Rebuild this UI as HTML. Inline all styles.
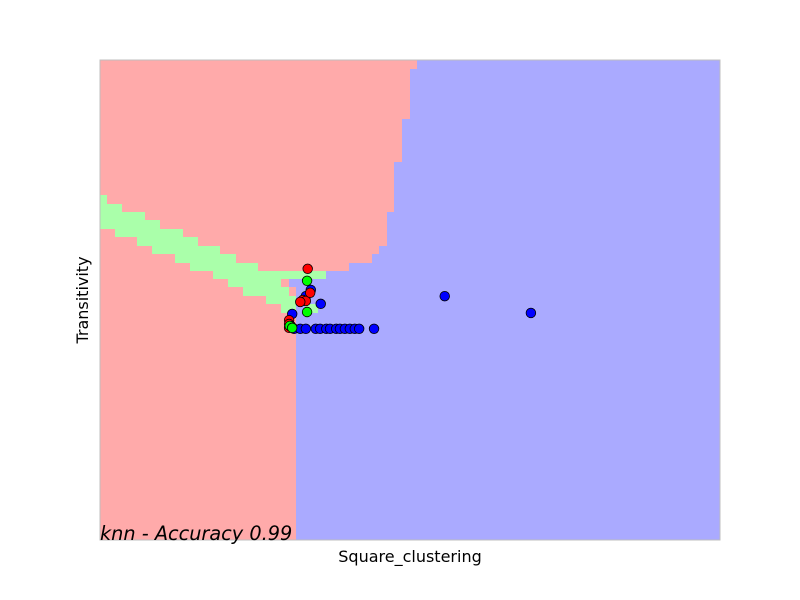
<!DOCTYPE html>
<html><head><meta charset="utf-8"><style>
html,body{margin:0;padding:0;background:#fff;width:800px;height:600px;overflow:hidden}
text{font-family:"DejaVu Sans","Liberation Sans",sans-serif}
</style></head><body>
<svg id="chart" width="800" height="600" xmlns="http://www.w3.org/2000/svg">
<g id="regions">
<rect x="100" y="60" width="620" height="480" fill="#aaaaff"/>
<polygon fill="#ffaaaa" points="100,60 417,60 417,69 410,69 410,119 402,119 402,162 394,162 394,212 387,212 387,246 379,246 379,254 372,254 372,263 349,263 349,271 326,271 326,279 296,279 296,540 100,540"/>
<rect x="289" y="279" width="22" height="8" fill="#aaaaff"/>
<g id="green" fill="#aaffaa">
<rect x="100" y="195" width="7" height="9"/>
<rect x="100" y="204" width="22" height="8"/>
<rect x="100" y="212" width="45" height="8"/>
<rect x="100" y="220" width="60" height="9"/>
<rect x="115" y="229" width="68" height="8"/>
<rect x="137" y="237" width="61" height="9"/>
<rect x="152" y="246" width="68" height="8"/>
<rect x="175" y="254" width="61" height="9"/>
<rect x="190" y="263" width="68" height="8"/>
<rect x="213" y="271" width="113" height="8"/>
<rect x="228" y="279" width="53" height="8"/>
<rect x="243" y="287" width="46" height="9"/>
<rect x="266" y="296" width="30" height="8"/>
<rect x="281" y="304" width="15" height="9"/>
<rect x="305" y="304" width="13" height="9"/>
</g>
</g>
<g id="points"></g>
<rect x="100" y="60" width="620" height="480" fill="none" stroke="#bfbfbf" stroke-width="1"/>
<text x="100" y="540" font-size="19.3" font-style="italic" fill="#000">knn - Accuracy 0.99</text>
<text x="410" y="562" font-size="16" text-anchor="middle" fill="#000">Square_clustering</text>
<text x="0" y="0" font-size="16" text-anchor="middle" transform="translate(88,300) rotate(-90)" fill="#000">Transitivity</text>
</svg>
<script>
const redX=[0.335,0.327,0.332,0.339,0.323,0.305,0.305,0.305,0.308];
const redY=[0.565,0.500,0.498,0.515,0.496,0.458,0.450,0.442,0.446];
const greenX=[0.334,0.334,0.306,0.310];
const greenY=[0.540,0.475,0.446,0.442];
const blueX=[0.556,0.695,0.340,0.356,0.332,0.310,0.313,0.323,0.332,0.348,0.355,0.365,0.371,0.381,0.387,0.395,0.403,0.411,0.418,0.442];
const blueY=[0.508,0.473,0.521,0.492,0.508,0.471,0.440,0.440,0.440,0.440,0.440,0.440,0.440,0.440,0.440,0.440,0.440,0.440,0.440,0.440];
function sx(v){return 100+v*620;}
function sy(v){return 540-v*480;}
const g=document.getElementById('points');
function draw(xs,ys,color,name){
  for(let i=0;i<xs.length;i++){
    const c=document.createElementNS('http://www.w3.org/2000/svg','circle');
    c.setAttribute('cx',sx(xs[i]));c.setAttribute('cy',sy(ys[i]));
    c.setAttribute('r',4.8);c.setAttribute('fill',color);
    c.setAttribute('stroke','#000');c.setAttribute('stroke-width','0.8');
    
    
    g.appendChild(c);
  }
}
draw(blueX,blueY,'#0000ff','point-blue');
draw(redX,redY,'#ff0000','point-red');
draw(greenX,greenY,'#00ff00','point-green');
</script>
</body></html>
